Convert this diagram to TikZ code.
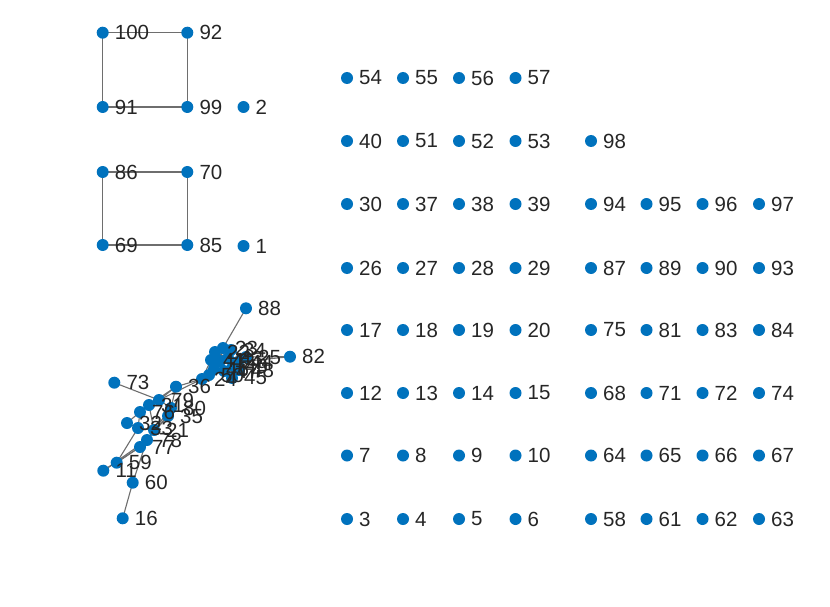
\documentclass[tikz,border=0pt]{standalone}
\usepackage{fontspec}
\setmainfont{Liberation Sans}
\usetikzlibrary{backgrounds}
\definecolor{mblue}{RGB}{0,114,189}
\definecolor{lblgray}{RGB}{38,38,38}
\definecolor{edgegray}{RGB}{110,110,110}
\tikzset{
  dot/.style={circle,fill=mblue,draw=none,inner sep=0pt,minimum size=12pt},
  lbl/.style={anchor=west,inner sep=0pt,text=lblgray,font=\fontsize{20.5}{21}\selectfont},
  edge/.style={draw=edgegray,line width=1.1pt}
}
\newcommand\gv[3]{\node[dot] (n#1) at (#2,#3) {};}
\begin{document}
\begin{tikzpicture}[x=1pt,y=-1pt]
\useasboundingbox (0,0) rectangle (830,607);
% squares
\gv{100}{102.7}{32.7}\gv{92}{187.3}{32.7}\gv{91}{102.7}{107}\gv{99}{187.3}{107}\gv{2}{243.5}{107}
\gv{86}{102.7}{172}\gv{70}{187.3}{172}\gv{69}{102.7}{245}\gv{85}{187.3}{245}\gv{1}{243.5}{246}
% grid
\foreach \a/\x/\y in {54/347/78,55/403/78,56/459/78,57/515.5/78,
  40/347/141,51/403/141,52/459/141,53/515.5/141,98/591/141,
  30/347/204,37/403/204,38/459/204,39/515.5/204,94/591/204,95/646.5/204,96/702.5/204,97/759/204,
  26/347/268,27/403/268,28/459/268,29/515.5/268,87/591/268,89/646.5/268,90/702.5/268,93/759/268,
  17/347/330,18/403/330,19/459/330,20/515.5/330,75/591/330,81/646.5/330,83/702.5/330,84/759/330,
  12/347/393,13/403/393,14/459/393,15/515.5/393,68/591/393,71/646.5/393,72/702.5/393,74/759/393,
  7/347/455.5,8/403/455.5,9/459/455.5,10/515.5/455.5,64/591/455.5,65/646.5/455.5,66/702.5/455.5,67/759/455.5,
  3/347/519,4/403/519,5/459/519,6/515.5/519,58/591/519,61/646.5/519,62/702.5/519,63/759/519}
  {\node[dot] (n\a) at (\x,\y) {};}
% cluster
\gv{88}{246}{308.3}\gv{82}{290}{356.7}\gv{73}{114.3}{382.7}
\gv{16}{122.7}{518.3}\gv{60}{132.7}{482.7}\gv{11}{103.3}{470.7}\gv{59}{116.7}{462.7}
\gv{36}{176}{386.7}\gv{24}{202}{379}
% upper blob
\gv{45}{232}{378}\gv{34}{231}{350}\gv{25}{246}{357}\gv{22}{215}{352}\gv{23}{223}{348}
\gv{41}{211}{360}\gv{42}{220}{361}\gv{43}{228}{358}\gv{44}{238}{362}\gv{46}{214}{369}
\gv{47}{224}{371}\gv{48}{239}{370}\gv{49}{233}{366}\gv{50}{209}{375}
% lower blob
\gv{79}{159}{400}\gv{80}{171}{408}\gv{35}{168}{416}\gv{76}{140}{412}\gv{31}{149}{405}
\gv{32}{127}{423}\gv{33}{138}{428}\gv{21}{154}{430}\gv{78}{147}{440}\gv{77}{140}{447}
% edges
\begin{pgfonlayer}{background}
\foreach \a/\b in {100/92,100/91,91/99,92/99,86/70,86/69,69/85,70/85,
  88/23,82/44,82/25,73/79,16/60,60/78,59/77,11/77,59/33,11/78,
  24/79,36/80,36/24,36/31,24/50,24/46,36/79,24/41,
  22/23,22/41,23/34,34/25,41/42,42/43,43/44,44/25,41/46,46/47,47/48,48/49,49/44,
  45/48,45/49,50/46,42/47,43/49,45/47,22/43,23/42,
  79/80,80/35,79/31,31/76,76/32,32/33,33/21,21/78,78/77,76/33,31/21,35/21,80/21,35/78,79/76}
  {\draw[edge] (n\a.center) -- (n\b.center);}
\end{pgfonlayer}
% labels
\foreach \a in {100,92,91,99,2,86,70,69,85,1,
  54,55,56,57,40,51,52,53,98,30,37,38,39,94,95,96,97,
  26,27,28,29,87,89,90,93,17,18,19,20,75,81,83,84,
  12,13,14,15,68,71,72,74,7,8,9,10,64,65,66,67,3,4,5,6,58,61,62,63,
  88,82,73,16,60,11,59,36,24,
  45,34,25,22,23,41,42,43,44,46,47,48,49,50,
  79,80,35,76,31,32,33,21,78,77}
  {\node[lbl] (l\a) at ([xshift=12pt]n\a.center) {\a};}
\end{tikzpicture}
\end{document}
